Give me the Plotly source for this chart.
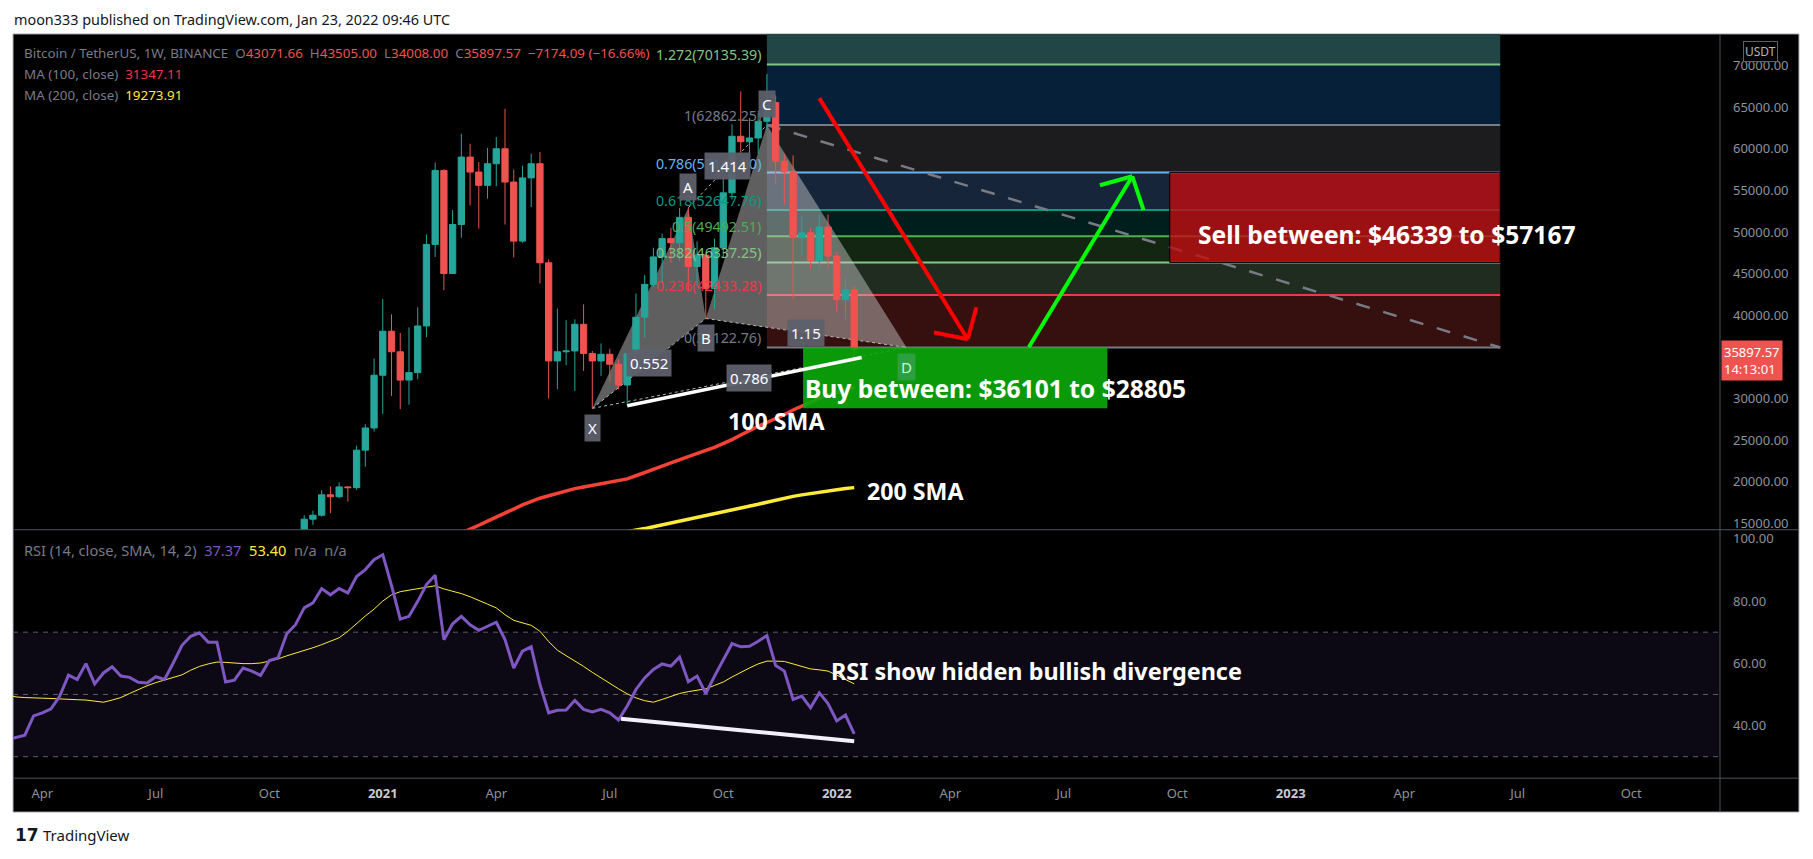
import pandas as pd
import plotly.graph_objects as go

W, H = 1813, 859

# weekly BTC/USDT candles, first bar = week of 2020-03-09
weeks = pd.date_range("2020-03-09", periods=98, freq="W-MON")

opens = [8034, 5361, 5816, 5881, 6775, 6894, 7121, 7700, 8906, 8722,
         9680, 8900, 9450, 9755, 9342, 9290, 9013, 9070, 9250, 9170,
         9930, 11100, 11560, 11850, 11650, 11680, 10250, 10680, 10930, 10775,
         10670, 11380, 11500, 13030, 13760, 15480, 15960, 18410, 18180, 19360,
         19270, 23780, 26440, 32780, 38070, 35600, 32200, 33100, 38700, 48500,
         57400, 45000, 50900, 59000, 57200, 55600, 58200, 60000, 56000, 48900,
         56500, 58200, 46300, 34500, 35600, 35700, 38900, 35400, 34500, 35300,
         34100, 31600, 35350, 39750, 43700, 47000, 49200, 48700, 51750, 45850,
         47200, 43200, 48100, 54700, 61500, 60850, 61300, 63300, 65550, 58500,
         57200, 49350, 49900, 46550, 50600, 47100, 41850, 43071.66]
highs = [8177, 6900, 6985, 7200, 7470, 7295, 7795, 9460, 10067, 9950,
         9890, 9740, 10380, 9995, 9800, 9770, 9375, 9470, 9350, 9950,
         11450, 11900, 12090, 12480, 11800, 12100, 10800, 11180, 11020, 10955,
         11490, 11720, 13350, 14100, 15960, 16500, 18960, 19420, 19920, 19420,
         24300, 26900, 34800, 41950, 40100, 37850, 38530, 40950, 49700, 58350,
         57530, 52640, 61800, 60600, 58400, 60100, 61400, 64800, 57500, 57950,
         59400, 59600, 46700, 40800, 39400, 39500, 41300, 35700, 36600, 35950,
         34700, 35400, 42600, 44800, 48100, 49800, 50500, 52900, 52900, 48850,
         47350, 49200, 56600, 62950, 66900, 63700, 64300, 69000, 66400, 59400,
         59200, 51900, 50500, 52100, 52100, 47600, 44450, 43505.00]
lows = [3782, 4442, 5670, 5855, 6500, 6465, 6790, 7640, 8100, 8117,
        8815, 8632, 9266, 9090, 8975, 8820, 8895, 9060, 9005, 9020,
        9900, 10950, 11150, 11520, 11100, 9825, 9875, 10200, 10130, 10370,
        10520, 11200, 11400, 12900, 13200, 14800, 15800, 16200, 18000, 17600,
        19000, 21800, 26000, 28130, 30300, 28700, 29240, 32300, 37350, 47000,
        43000, 44950, 49300, 53200, 50400, 54000, 55500, 50900, 46950, 48700,
        53000, 43800, 30000, 31100, 34000, 30900, 33300, 28800, 32700, 32000,
        31100, 29300, 35200, 37300, 43400, 43900, 46300, 46500, 42800, 43400,
        39600, 40750, 46900, 53900, 59500, 57800, 59400, 62300, 55700, 53300,
        42000, 47100, 45500, 45550, 45700, 40400, 39500, 34008.00]
closes = [5361, 5816, 5881, 6775, 6894, 7121, 7700, 8906, 8722, 9680,
          8900, 9450, 9755, 9342, 9290, 9013, 9070, 9250, 9170, 9930,
          11100, 11560, 11850, 11650, 11680, 10250, 10680, 10930, 10775, 10670,
          11380, 11500, 13030, 13760, 15480, 15960, 18410, 18180, 19360, 19270,
          23780, 26440, 32780, 38070, 35600, 32200, 33100, 38700, 48500, 57400,
          45000, 50900, 59000, 57200, 55600, 58200, 60000, 56000, 48900, 56500,
          58200, 46300, 34500, 35600, 35700, 38900, 35400, 34500, 35300, 34100,
          31600, 35350, 39750, 43700, 47000, 49200, 48700, 51750, 45850, 47200,
          43200, 48100, 54700, 61500, 60850, 61300, 63300, 65550, 58500, 57200,
          49350, 49900, 46550, 50600, 47100, 41850, 43071.66, 35897.57]

# moving averages (start index into weeks)
ma100_start = 50
ma100 = [12900, 13350, 13780, 14250, 14750, 15250, 15700, 16200, 16700, 17200,
         17650, 18000, 18300, 18600, 18850, 19150, 19350, 19550, 19750, 19950,
         20150, 20320, 20700, 21050, 21450, 21850, 22250, 22650, 23000, 23400,
         23750, 24100, 24550, 25050, 25600, 26150, 26650, 27100, 27550, 28050,
         28600, 29100, 29550, 30000, 30400, 30750, 31050, 31347.11]
ma200_start = 70
ma200 = [13800, 13950, 14120, 14350, 14580, 14800, 15000, 15220, 15440, 15650,
         15870, 16080, 16300, 16520, 16780, 17020, 17270, 17520, 17780, 18030,
         18220, 18400, 18570, 18730, 18880, 19030, 19160, 19273.91]

rsi = [35.5, 36.1, 36.9, 43.1, 44.1, 45.4, 49.5, 56.2, 54.8, 59.9,
       53.4, 56.9, 58.9, 55.9, 55.5, 53.9, 53.7, 55.7, 54.8, 60.1,
       65.8, 68.7, 69.8, 66.8, 66.8, 54.0, 54.6, 58.5, 57.5, 56.1,
       60.9, 61.7, 69.5, 72.4, 77.8, 79.4, 84.0, 82.0, 84.0, 82.6,
       87.9, 90.1, 93.3, 94.9, 85.0, 74.2, 75.1, 79.9, 85.3, 88.3,
       67.6, 72.7, 75.1, 72.4, 70.6, 71.9, 73.2, 67.6, 58.5, 63.9,
       65.3, 53.2, 44.1, 44.9, 45.0, 48.1, 45.2, 44.4, 45.2, 44.1,
       41.8, 46.3, 51.6, 55.3, 58.0, 59.8, 59.1, 62.0, 54.1, 55.9,
       50.3, 55.9, 61.2, 66.3, 65.3, 65.5, 67.1, 68.9, 59.3, 57.5,
       48.4, 49.5, 45.7, 50.5, 47.1, 41.5, 43.4, 37.37]
rsi_sma = [49.8, 49.2, 49.0, 49.0, 48.8, 48.7, 48.5, 48.4, 48.3, 48.2,
           47.8, 47.5, 48.2, 49.0, 50.3, 51.6, 52.8, 53.8, 54.6, 55.3,
           56.3, 57.8, 59.0, 59.8, 60.4, 60.3, 60.0, 59.9, 59.9, 60.1,
           60.7, 61.4, 62.4, 63.2, 64.0, 65.0, 66.0, 67.0, 68.2, 70.3,
           72.8, 75.2, 77.4, 80.0, 82.0, 83.0, 83.5, 84.0, 84.4, 84.9,
           83.9, 83.2, 82.4, 81.4, 80.3, 79.0, 77.8, 75.6, 73.8, 73.0,
           72.2, 70.3, 67.0, 64.2, 62.5, 60.9, 59.0, 57.1, 55.3, 53.5,
           51.8, 50.2, 48.9, 48.0, 47.5, 48.4, 49.4, 50.3, 50.9, 51.4,
           51.8, 52.9, 54.0, 55.6, 57.1, 58.5, 59.8, 60.7, 60.7, 60.6,
           59.8, 59.0, 58.2, 57.9, 57.5, 56.2, 54.8, 53.40]

# fib retracement drawing
fib_start, fib_end = "2021-11-08", "2023-06-19"
fib_levels = [0, 0.236, 0.382, 0.5, 0.618, 0.786, 1, 1.272, 1.618]
fib_prices = [36122.76, 42433.28, 46337.25, 49492.51, 52647.76, 57140.00, 62862.25, 70135.39, 79387.11]
fib_line_colors = ["#787b86", "#f23645", "#81c784", "#4caf50", "#089981", "#64b5f6", "#787b86", "#81c784", "#2962ff"]
fib_band_colors = ["#360f0f", "#1f2c1f", "#132612", "#001f1c", "#16253a", "#1c1c1e", "#06203a", "#224545"]

# XABCD pattern
pat_names = ["X", "A", "B", "C", "D"]
pat_dates = ["2021-06-21", "2021-09-06", "2021-09-20", "2021-11-08", "2022-02-28"]
pat_prices = [28800, 52900, 39600, 62862, 36122]
ratio_pairs = [(0, 2), (1, 3), (2, 4), (0, 4)]
ratio_text = ["0.552", "1.414", "1.15", "0.786"]

# zones and hand drawings
sell_zone = ("2022-09-27", "2023-06-19", 46339, 57167)
buy_zone = ("2021-12-07", "2022-08-08", 28805, 36101)
red_arrow = [("2021-12-20", 66090), ("2022-04-18", 37110), ("2022-04-25", 40950), ("2022-03-22", 37910)]
green_arrow = [("2022-06-06", 36150), ("2022-08-28", 56690), ("2022-08-02", 55610), ("2022-09-06", 52610)]
price_trend = [("2021-07-19", 29110), ("2022-01-23", 34920)]
rsi_trend = [("2021-07-14", 42.2), ("2022-01-17", 35.0)]

tick_dates = ["2020-04-06", "2020-07-06", "2020-10-05", "2021-01-04", "2021-04-05", "2021-07-05",
              "2021-10-04", "2022-01-03", "2022-04-04", "2022-07-04", "2022-10-03", "2023-01-02",
              "2023-04-03", "2023-07-03", "2023-10-02"]
tick_names = ["Apr", "Jul", "Oct", "2021", "Apr", "Jul", "Oct", "2022", "Apr", "Jul", "Oct", "2023",
              "Apr", "Jul", "Oct"]
price_ticks = [15000, 20000, 25000, 30000, 40000, 45000, 50000, 55000, 60000, 65000, 70000]
rsi_ticks = [40, 60, 80, 100]

UP, DOWN = "#26a69a", "#ef5350"
AXIS_TXT = "#8f929b"
FONT = "Noto Sans"


def xp(px):
    return px / W


def yp(py):
    return 1 - py / H


fig = go.Figure()

fig.add_trace(go.Candlestick(
    x=weeks, open=opens, high=highs, low=lows, close=closes,
    increasing=dict(line=dict(color=UP, width=1), fillcolor=UP),
    decreasing=dict(line=dict(color=DOWN, width=1), fillcolor=DOWN),
    whiskerwidth=0, hoverinfo="skip", showlegend=False))
fig.add_trace(go.Scatter(x=weeks[ma100_start:], y=ma100, mode="lines",
                         line=dict(color="#f44336", width=3.5), hoverinfo="skip"))
fig.add_trace(go.Scatter(x=weeks[ma200_start:], y=ma200, mode="lines",
                         line=dict(color="#ffeb3b", width=3.5), hoverinfo="skip"))
fig.add_trace(go.Scatter(x=weeks, y=rsi_sma, mode="lines", xaxis="x2", yaxis="y2",
                         line=dict(color="#ffeb3b", width=1), hoverinfo="skip"))
fig.add_trace(go.Scatter(x=weeks, y=rsi, mode="lines", xaxis="x2", yaxis="y2",
                         line=dict(color="#7e57c2", width=3), hoverinfo="skip"))

shapes = []
# chart frame
shapes.append(dict(type="rect", xref="paper", yref="paper", x0=xp(13), x1=xp(1799), y0=yp(814), y1=yp(34),
                   fillcolor="black", line=dict(color="#b2b5be", width=1), layer="below"))
# rsi band and levels
shapes.append(dict(type="rect", xref="paper", yref="y2", x0=xp(13), x1=xp(1720), y0=30, y1=70,
                   fillcolor="rgba(126,87,194,0.1)", line=dict(width=0), layer="below"))
for lvl in [70, 50, 30]:
    shapes.append(dict(type="line", xref="paper", yref="y2", x0=xp(13), x1=xp(1720), y0=lvl, y1=lvl,
                       line=dict(color="#5d606b", width=1, dash="5px,5px"), layer="below"))
# fib bands and lines
for k in range(len(fib_band_colors)):
    shapes.append(dict(type="rect", xref="x", yref="y", x0=fib_start, x1=fib_end,
                       y0=fib_prices[k], y1=fib_prices[k + 1], fillcolor=fib_band_colors[k],
                       line=dict(width=0), layer="below"))
for k in range(len(fib_levels)):
    shapes.append(dict(type="line", xref="x", yref="y", x0=fib_start, x1=fib_end,
                       y0=fib_prices[k], y1=fib_prices[k], line=dict(color=fib_line_colors[k], width=2),
                       layer="below"))
shapes.append(dict(type="line", xref="x", yref="y", x0=fib_start, x1=fib_end, y0=fib_prices[6], y1=fib_prices[0],
                   line=dict(color="#787b86", width=2.5, dash="14px,14px"), layer="below"))


# harmonic triangles
def tri(a, b, c):
    pts = [(pat_dates[i], pat_prices[i]) for i in (a, b, c)]
    return "M{},{} L{},{} L{},{} Z".format(*[v for p in pts for v in p])


for a, b, c in [(0, 1, 2), (2, 3, 4)]:
    shapes.append(dict(type="path", xref="x", yref="y", path=tri(a, b, c),
                       fillcolor="rgba(198,198,198,0.48)", line=dict(width=0), layer="below"))
for a, b in ratio_pairs:
    shapes.append(dict(type="line", xref="x", yref="y", x0=pat_dates[a], x1=pat_dates[b],
                       y0=pat_prices[a], y1=pat_prices[b], line=dict(color="#b2b5be", width=1, dash="dot"),
                       layer="below"))

# zones
shapes.append(dict(type="rect", xref="x", yref="y", x0=buy_zone[0], x1=buy_zone[1], y0=buy_zone[2], y1=buy_zone[3],
                   fillcolor="rgba(10,170,10,0.9)", line=dict(width=0), layer="above"))
shapes.append(dict(type="rect", xref="x", yref="y", x0=sell_zone[0], x1=sell_zone[1], y0=sell_zone[2],
                   y1=sell_zone[3], fillcolor="rgba(194,13,17,0.8)", line=dict(color="black", width=1),
                   layer="above"))
# arrows
for pts, col in [(red_arrow, "#ff0000"), (green_arrow, "#00ff00")]:
    tail, tip, h1, h2 = pts
    for p0 in (tail, h1, h2):
        shapes.append(dict(type="line", xref="x", yref="y", x0=p0[0], y0=p0[1], x1=tip[0], y1=tip[1],
                           line=dict(color=col, width=4), layer="above"))
# trend lines
shapes.append(dict(type="line", xref="x", yref="y", x0=price_trend[0][0], y0=price_trend[0][1],
                   x1=price_trend[1][0], y1=price_trend[1][1], line=dict(color="white", width=3.5), layer="above"))
shapes.append(dict(type="line", xref="x2", yref="y2", x0=rsi_trend[0][0], y0=rsi_trend[0][1],
                   x1=rsi_trend[1][0], y1=rsi_trend[1][1], line=dict(color="#f3effa", width=4), layer="above"))
# pane separators
for py in (531, 780):
    shapes.append(dict(type="line", xref="paper", yref="paper", x0=xp(13), x1=xp(1799), y0=yp(py), y1=yp(py),
                       line=dict(color="#50535e", width=1), layer="above"))
shapes.append(dict(type="line", xref="paper", yref="paper", x0=xp(1720), x1=xp(1720), y0=yp(814), y1=yp(34),
                   line=dict(color="#50535e", width=1), layer="above"))

ann = []


def note(text, x, y, size=13, color="#787b86", xanchor="left", yanchor="middle", **kw):
    d = dict(text=text, x=x, y=y, xref=kw.pop("xref", "paper"), yref=kw.pop("yref", "paper"),
             xanchor=xanchor, yanchor=yanchor, showarrow=False,
             font=dict(family=kw.pop("family", FONT), size=size, color=color, weight=kw.pop("weight", "normal")))
    d.update(kw)
    ann.append(d)


def red(v):
    return "<span style='color:#ef5350'>" + v + "</span>"


sp = "\u00a0"
chg = closes[-1] - opens[-1]
pct = chg / opens[-1] * 100
line1 = ("Bitcoin / TetherUS, 1W, BINANCE" + sp * 2 + "O" + red(f"{opens[-1]:.2f}") + sp * 2 + "H" +
         red(f"{highs[-1]:.2f}") + sp * 2 + "L" + red(f"{lows[-1]:.2f}") + sp * 2 + "C" + red(f"{closes[-1]:.2f}") +
         sp * 2 + red(f"{chg:.2f} ({pct:.2f}%)".replace("-", "\u2212")))
note("moon333 published on TradingView.com, Jan 23, 2022 09:46 UTC", xp(12), yp(20), size=14.4, color="#131722")
note(line1, xp(22), yp(53), size=13.4)
note("MA (100, close)" + sp * 2 + "<span style='color:#f23645'>" + f"{ma100[-1]:.2f}" + "</span>", xp(22), yp(74),
     size=13.4)
note("MA (200, close)" + sp * 2 + "<span style='color:#ffeb3b'>" + f"{ma200[-1]:.2f}" + "</span>", xp(22), yp(95),
     size=13.4)
note("RSI (14, close, SMA, 14, 2)" + sp * 2 + "<span style='color:#7e57c2'>" + f"{rsi[-1]:.2f}" + "</span>" + sp * 2 +
     "<span style='color:#ffeb3b'>" + f"{rsi_sma[-1]:.2f}" + "</span>" + sp * 2 + "n/a" + sp * 2 + "n/a",
     xp(22), yp(551), size=14.6)

# fib labels
for k in range(len(fib_levels) - 1):
    lv = fib_levels[k]
    note(f"{lv:g}({fib_prices[k]:.2f})", fib_start, fib_prices[k], xref="x", yref="y", xanchor="right",
         yanchor="bottom", color=fib_line_colors[k], xshift=-4, yshift=-2, size=14.2)

# pattern labels
for i, name in enumerate(pat_names):
    above = name in ("A", "C")
    bg = "rgba(46,160,67,0.95)" if name == "D" else "rgba(93,96,107,0.95)"
    fc = "#c8facc" if name == "D" else "white"
    note(name, pat_dates[i], pat_prices[i], xref="x", yref="y", xanchor="center", size=15, color=fc,
         yshift=21 if above else -20, bgcolor=bg, borderpad=3)
for (a, b), t in zip(ratio_pairs, ratio_text):
    ta, tb = pd.Timestamp(pat_dates[a]), pd.Timestamp(pat_dates[b])
    mid = (ta + (tb - ta) / 2).strftime("%Y-%m-%d %H:%M")
    note(t, mid, (pat_prices[a] + pat_prices[b]) / 2, xref="x", yref="y", xanchor="center", size=15,
         color="white", bgcolor="rgba(93,96,107,0.95)", borderpad=3)

# overlay texts
note("Sell between: $46339 to $57167", sell_zone[0], 49700, xref="x", yref="y", xshift=26,
     size=24.6, color="white", weight="bold")
note("Buy between: $36101 to $28805", buy_zone[0], 31160, xref="x", yref="y", xshift=0,
     size=24.6, color="white", weight="bold")
note("100 SMA", "2021-10-06", 27280, xref="x", yref="y", size=23.2, color="white", weight="bold")
note("200 SMA", "2022-01-26", 18825, xref="x", yref="y", size=23.2, color="white", weight="bold")
note("RSI show hidden bullish divergence", "2021-12-28", 57.4, xref="x2", yref="y2",
     size=23.4, color="white", weight="bold")

# price axis extras
note(f"{closes[-1]:.2f}<br>14:13:01", xp(1721), closes[-1], yref="y", yanchor="top", yshift=9, size=13,
     color="white", bgcolor="#ef5350", borderpad=2, align="left")
note("USDT", xp(1760), yp(52), xanchor="center", size=12, color="#b2b5be", bgcolor="black",
     bordercolor="#5d606b", borderwidth=1, borderpad=1)

# footer
note("<b>17</b>", xp(13), yp(837), size=17, color="#131722", family="DejaVu Sans")
note("TradingView", xp(41), yp(837), size=15, color="#131722")

tick_labels = [("<span style='color:#c8cad0'><b>" + t + "</b></span>") if t.isdigit() else t for t in tick_names]
x_range = ["2020-03-13 12:00", "2023-12-12 05:00"]
axis_common = dict(showgrid=False, zeroline=False, showline=False, ticks="")

fig.update_layout(
    width=W, height=H, margin=dict(l=0, r=0, t=0, b=0),
    paper_bgcolor="white", plot_bgcolor="rgba(0,0,0,0)",
    showlegend=False, hovermode=False, boxgap=0.2, boxgroupgap=0.1,
    shapes=shapes, annotations=ann,
    xaxis=dict(domain=[xp(13), xp(1720)], range=x_range, anchor="y", showticklabels=False,
               rangeslider=dict(visible=False), **axis_common),
    yaxis=dict(domain=[yp(531), yp(34)], range=[14209, 73801], side="right", anchor="x",
               tickvals=price_ticks, ticktext=[f"{v:.2f}" for v in price_ticks], ticklabelstandoff=12,
               tickfont=dict(family=FONT, size=13, color=AXIS_TXT), **axis_common),
    xaxis2=dict(domain=[xp(13), xp(1720)], range=x_range, anchor="y2", tickvals=tick_dates, ticktext=tick_labels,
                ticklabelstandoff=6, tickfont=dict(family=FONT, size=13, color=AXIS_TXT), **axis_common),
    yaxis2=dict(domain=[yp(780), yp(531)], range=[23.1, 102.9], side="right", anchor="x2",
                tickvals=rsi_ticks, ticktext=[f"{v:.2f}" for v in rsi_ticks], ticklabelstandoff=12,
                tickfont=dict(family=FONT, size=13, color=AXIS_TXT), **axis_common),
)

fig.write_html("out.html", config={"displayModeBar": False},
               post_script="document.body.style.margin='0';document.body.style.overflow='hidden';")
